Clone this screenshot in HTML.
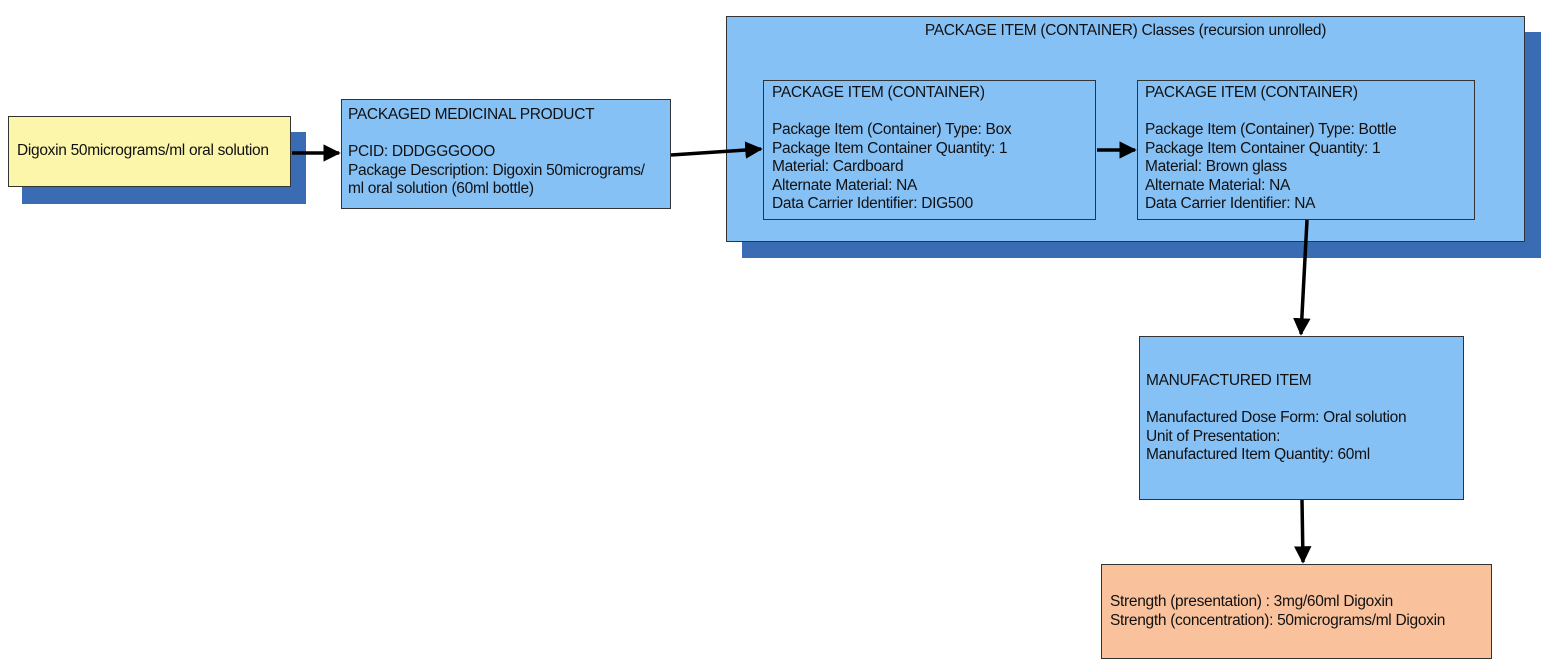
<!DOCTYPE html>
<html><head><style>
body{margin:0;width:1554px;height:667px;background:#fff;position:relative;overflow:hidden;font-family:"Liberation Sans",Arial,sans-serif;font-size:15.5px;color:#111;}
.b{position:absolute;box-sizing:border-box;border:1.5px solid #333;}
.s{position:absolute;background:#3a6cb4;}
.blue{background:#86c1f6;}
.t{position:absolute;line-height:18.5px;white-space:nowrap;letter-spacing:-0.3px}
</style></head><body>
<div class="s" style="left:22px;top:132px;width:284px;height:72px"></div>
<div class="b" style="left:8px;top:116px;width:283px;height:71px;background:#fcf6aa"></div>
<div class="t" style="left:17px;top:142px">Digoxin 50micrograms/ml oral solution</div>

<div class="b blue" style="left:341px;top:99px;width:330px;height:110px"></div>
<div class="t" style="left:348px;top:106px">PACKAGED MEDICINAL PRODUCT<br><br>PCID: DDDGGGOOO<br>Package Description: Digoxin 50micrograms/<br>ml oral solution (60ml bottle)</div>

<div class="s" style="left:742px;top:32px;width:799px;height:226px"></div>
<div class="b blue" style="left:726px;top:16px;width:799px;height:226px"></div>
<div class="t" style="left:726px;width:799px;text-align:center;top:22px">PACKAGE ITEM (CONTAINER) Classes (recursion unrolled)</div>

<div class="b blue" style="left:763px;top:80px;width:333px;height:140px"></div>
<div class="t" style="left:772px;top:84px">PACKAGE ITEM (CONTAINER)<br><br>Package Item (Container) Type: Box<br>Package Item Container Quantity: 1<br>Material: Cardboard<br>Alternate Material: NA<br>Data Carrier Identifier: DIG500</div>

<div class="b blue" style="left:1137px;top:80px;width:338px;height:140px"></div>
<div class="t" style="left:1145px;top:84px">PACKAGE ITEM (CONTAINER)<br><br>Package Item (Container) Type: Bottle<br>Package Item Container Quantity: 1<br>Material: Brown glass<br>Alternate Material: NA<br>Data Carrier Identifier: NA</div>

<div class="b blue" style="left:1139px;top:336px;width:325px;height:164px"></div>
<div class="t" style="left:1146px;top:372px">MANUFACTURED ITEM<br><br>Manufactured Dose Form: Oral solution<br>Unit of Presentation:<br>Manufactured Item Quantity: 60ml</div>

<div class="b" style="left:1101px;top:564px;width:391px;height:95px;background:#f9c29c"></div>
<div class="t" style="left:1110px;top:593px">Strength (presentation) : 3mg/60ml Digoxin<br>Strength (concentration): 50micrograms/ml Digoxin</div>

<svg width="1554" height="667" style="position:absolute;left:0;top:0">
<defs><marker id="a" markerWidth="5" markerHeight="5" refX="4.5" refY="2.5" orient="auto"><path d="M0,0 L5,2.5 L0,5 z" fill="#000"/></marker></defs>
<g stroke="#000" stroke-width="3.5" fill="none" marker-end="url(#a)">
<line x1="292" y1="153" x2="339" y2="153"/>
<line x1="671" y1="155" x2="761" y2="149"/>
<line x1="1097" y1="150" x2="1135" y2="150"/>
<line x1="1307" y1="220" x2="1301" y2="334"/>
<line x1="1302" y1="500" x2="1303" y2="562"/>
</g></svg>
</body></html>
